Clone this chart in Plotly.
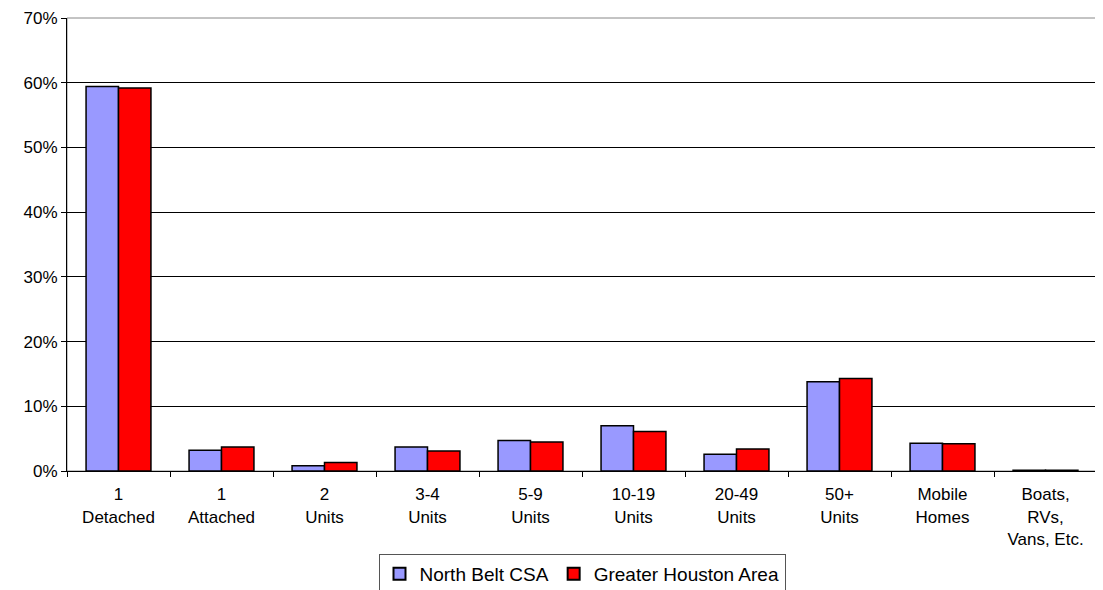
import plotly.graph_objects as go

# housing unit types
categories = ["1<br>Detached", "1<br>Attached", "2<br>Units", "3-4<br>Units", "5-9<br>Units",
              "10-19<br>Units", "20-49<br>Units", "50+<br>Units", "Mobile<br>Homes",
              "Boats,<br>RVs,<br>Vans, Etc."]
north_belt = [59.4, 3.2, 0.8, 3.7, 4.7, 7.0, 2.6, 13.8, 4.3, 0.1]
greater_houston = [59.2, 3.7, 1.3, 3.1, 4.5, 6.1, 3.4, 14.3, 4.2, 0.1]
y_ticks = [0, 10, 20, 30, 40, 50, 60, 70]
y_labels = [f"{v}%" for v in y_ticks]

fig = go.Figure()
fig.add_trace(go.Bar(x=categories, y=north_belt, name="North Belt CSA",
                     marker=dict(color="#9999ff", line=dict(color="black", width=1.5))))
fig.add_trace(go.Bar(x=categories, y=greater_houston, name="Greater Houston Area",
                     marker=dict(color="#ff0000", line=dict(color="black", width=1.5))))

# page body adds an 8px offset; figure runs past the window bottom like the reference legend
fig.update_layout(
    width=1095, height=600,
    margin=dict(l=59, r=6, t=10, b=137),
    paper_bgcolor="white", plot_bgcolor="white",
    font=dict(family="Liberation Sans, Arial, sans-serif", size=17, color="black"),
    barmode="group", bargap=0.37, bargroupgap=0,
    legend=dict(orientation="h", x=0.5, xanchor="center", y=-0.183, yanchor="top",
                bordercolor="#555555", borderwidth=1, font=dict(size=19),
                itemsizing="constant"),
    shapes=[dict(type="rect", xref="paper", yref="paper", x0=0, x1=1, y0=0, y1=1,
                 line=dict(color="#888888", width=1), layer="below")],
)
fig.update_xaxes(showline=True, linecolor="black", linewidth=1, ticks="outside",
                 tickson="boundaries", ticklen=5, tickcolor="black", showgrid=False,
                 tickfont=dict(size=17), automargin=False, ticklabelstandoff=8)
fig.update_yaxes(range=[0, 70], tickvals=y_ticks, ticktext=y_labels, showline=True,
                 linecolor="black", linewidth=1, ticks="outside", ticklen=5,
                 tickcolor="black", showgrid=True, gridcolor="black", gridwidth=1,
                 zeroline=False, tickfont=dict(size=17), automargin=False,
                 ticklabeloverflow="allow")

fig.write_html("out.html")
